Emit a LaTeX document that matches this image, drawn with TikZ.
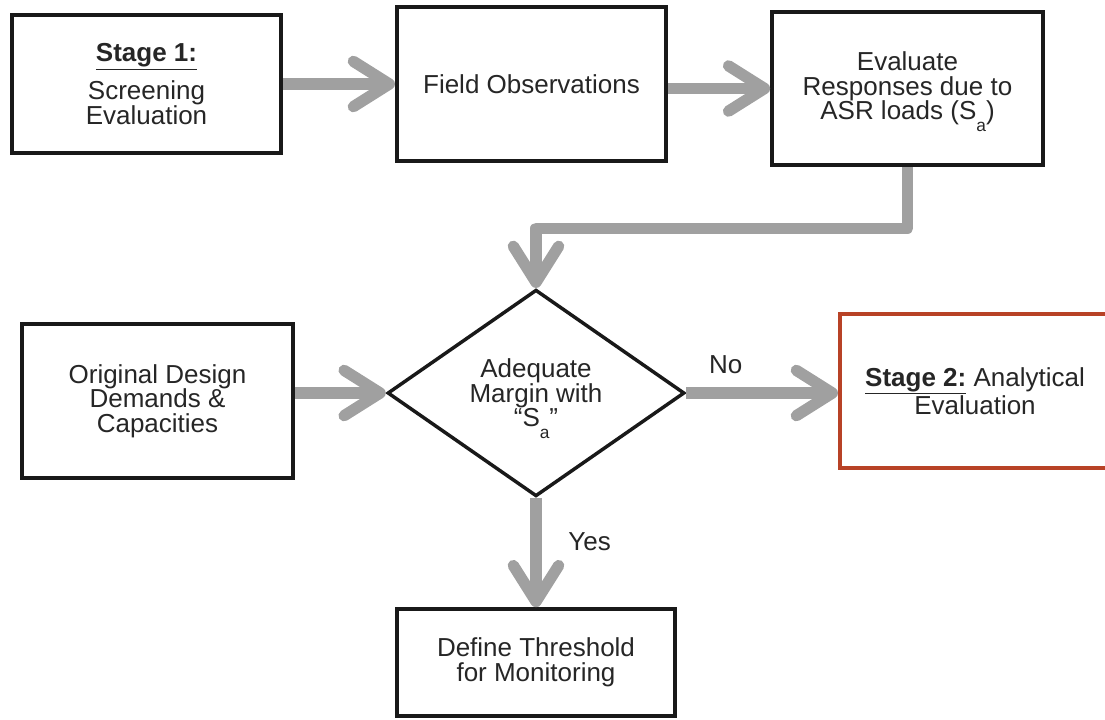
\documentclass[tikz,border=0pt]{standalone}
\usepackage{fontspec}
\setmainfont{Liberation Sans}
\usepackage{tikz}
\usetikzlibrary{arrows.meta,shapes.geometric}
\definecolor{flowgray}{RGB}{160,160,160}
\definecolor{stagered}{RGB}{184,66,38}
\def\lowa{\raisebox{-9pt}[0pt][0pt]{\fontsize{13}{13}\selectfont a}}
\tikzset{
	box/.style={draw=black!90, line width=3pt, align=center, inner sep=0pt, text=black!85, font=\fontsize{19.5}{18.5}\selectfont},
	flow/.style={draw=flowgray, line width=8.5pt, line join=round, -{Straight Barb[length=27pt, width=34pt, round]}},
	flowlabel/.style={inner sep=0pt, text=black!85, font=\fontsize{19.5}{18.5}\selectfont}
}

\begin{document}
\begin{tikzpicture}[x=0.75pt, y=-0.75pt]
			%%%%% START %%%%%
			\useasboundingbox (0, 0) rectangle (1105, 719);
			
			\node[box, minimum width=201.75pt, minimum height=103.5pt] (stageone) at (146.5, 84) {\underline{\textbf{Stage 1:}}\\[7pt]Screening\\Evaluation};
			\node[box, minimum width=201.75pt, minimum height=115.5pt] (fieldobs) at (531.5, 84) {Field Observations};
			\node[box, minimum width=203pt, minimum height=115pt] (responses) at (907.5, 88.5) {Evaluate\\Responses due to\\ASR loads (S\lowa)};
			
			\node[box, minimum width=203pt, minimum height=115.5pt] (original) at (157.5, 401) {Original Design\\Demands \&\\Capacities};
			\node[box, shape=diamond, line width=2.6pt, minimum width=222.75pt, minimum height=155pt] (margin) at (536, 393) {Adequate\\Margin with\\“S\lowa”};
			\node[box, draw=stagered, minimum width=202.5pt, minimum height=115.5pt] (stagetwo) at (975, 391) {\underline{\textbf{Stage 2:}} Analytical\\Evaluation};
			
			\node[box, minimum width=208.5pt, minimum height=80pt] (threshold) at (536, 662.5) {Define Threshold\\for Monitoring};
			
			\draw[flow] (stageone.east) -- (fieldobs.east -| fieldobs.west);
			\draw[flow] (fieldobs.east |- responses.west) -- (responses.west);
			\draw[flow] (responses.south) -- ++(0, 61) -| (margin.north);
			\draw[flow] (original.east |- margin.west) -- (margin.west);
			\draw[flow] (margin.east) -- (stagetwo.west |- margin.east) node[flowlabel, pos=0.26, above=10.5pt] {No};
			\draw[flow] (margin.south) -- (threshold.north) node[flowlabel, pos=0.4, right=20pt] {Yes};
			%%%%% END %%%%%
		\end{tikzpicture}
\end{document}
